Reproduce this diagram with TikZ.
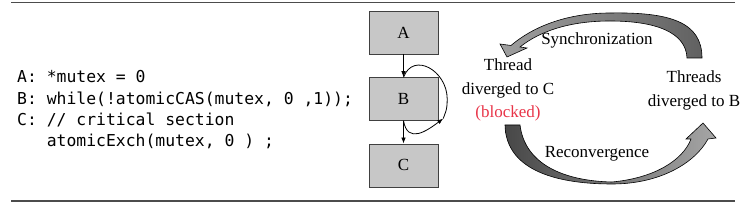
\documentclass[tikz,border=0pt]{standalone}
\usepackage{fontspec}
\setmainfont{Liberation Serif}
\setmonofont{DejaVu Sans Mono}
\usetikzlibrary{positioning, calc, arrows.meta}
\definecolor{blockedred}{RGB}{232,52,72}
\tikzset{
    cfgbox/.style={draw=black!75, fill=black!22, minimum width=69pt,
        minimum height=43pt, inner sep=0pt, font=\fontsize{17}{20}\selectfont},
    cfgarrow/.style={-{Latex[length=6pt,width=4.5pt]}, line width=0.8pt},
    labeltext/.style={align=center, inner sep=0pt, font=\fontsize{17}{23.5}\selectfont},
    codetext/.style={align=left, inner sep=0pt, font=\ttfamily\fontsize{16.4}{21.3}\selectfont},
    bigarrow/.style={draw=black, line width=0.6pt, line join=miter}
}

\begin{document}
\begin{tikzpicture}[x=1pt, y=1pt, node distance=23pt]
\useasboundingbox (0,0) rectangle (747,-205);
\colorlet{rulecolor}{black!70}

% rules
\draw[rulecolor, line width=1.3pt] (11,-2.5) -- (735,-2.5);
\draw[rulecolor, line width=1.3pt] (11,-201) -- (735,-201);

% code
\node[codetext, anchor=west] (code) at (17,-110) {A: *mutex = 0\\
B: while(!atomicCAS(mutex, 0 ,1));\\
C: // critical section\\
\phantom{C: }atomicExch(mutex, 0 ) ;};

% control flow
\node[cfgbox] (A) at (403.5,-32.5) {A};
\node[cfgbox, below=of A] (B) {B};
\node[cfgbox, below=of B] (C) {C};

\draw[cfgarrow] (A) -- (B);
\draw[cfgarrow] (B) -- (C);

\coordinate (looptip) at ($(B.south east)+(5,2)$);
\coordinate (loopright) at ($(B.east)+(9,0)$);
\draw[line width=0.8pt] (B.north) .. controls +(10,26) and +(0,28) .. (loopright)
    .. controls +(0,-12) and +(2,6) .. (looptip);
\draw[cfgarrow] (B.south) .. controls +(4,-24) and +(-16,-12) .. (looptip);

% states
\node[labeltext] (threadc) at (508,-90) {Thread\\diverged to C\\\textcolor{blockedred}{(blocked)}};
\node[labeltext] (threadb) at (694,-90.5) {Threads\\diverged to B};
\node[labeltext] (sync) at (597,-40) {Synchronization};
\node[labeltext] (recon) at (597,-154) {Reconvergence};

% synchronization arrow
\shadedraw[bigarrow, left color=gray!75, right color=black!62]
    (702,-58) .. controls (702,-22) and (670,-12) .. (610,-13)
    .. controls (570,-13) and (535,-25) .. (511,-45.5)
    -- (500,-44) -- (507,-57) -- (527,-48) -- (520,-47)
    .. controls (540,-31) and (570,-21) .. (610,-21)
    .. controls (655,-21) and (686,-32) .. (687,-58) -- cycle;

% reconvergence arrow
\shadedraw[bigarrow, left color=black!72, right color=gray!70]
    (505,-125) .. controls (506,-172) and (560,-184) .. (612,-184)
    .. controls (660,-184) and (695,-163) .. (708,-139)
    -- (716,-138) -- (703,-123) -- (686,-139) -- (691,-139)
    .. controls (683,-160) and (655,-178) .. (612,-182)
    .. controls (565,-181) and (525,-165) .. (520,-125) -- cycle;
\end{tikzpicture}
\end{document}
